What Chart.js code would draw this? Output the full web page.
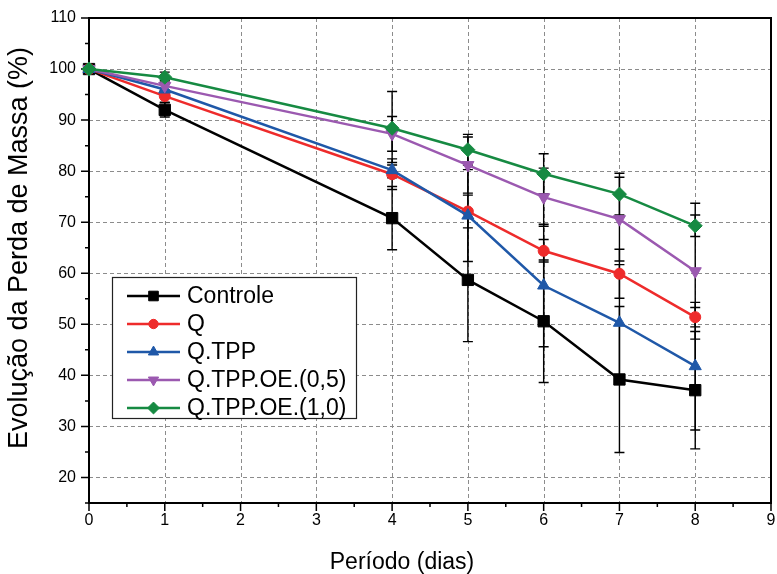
<!DOCTYPE html>
<html>
<head>
<meta charset="utf-8">
<script src="https://cdn.jsdelivr.net/npm/chart.js@4.4.1/dist/chart.umd.min.js"></script>
<style>
  html, body { margin: 0; padding: 0; background: #fff; }
  #wrap { width: 777px; height: 574px; }
</style>
</head>
<body>
<div id="wrap"><canvas id="grafico"></canvas></div>
<script>
// Dados
const dias = [0, 1, 4, 5, 6, 7, 8];
const nomes = ['Controle', 'Q', 'Q.TPP', 'Q.TPP.OE.(0,5)', 'Q.TPP.OE.(1,0)'];

const controle    = [100, 92.0, 70.8, 58.7, 50.6, 39.2, 37.1];
const controleErr = [0, 1.4, 6.2, 12.1, 12.0, 14.3, 11.5];
const q           = [100, 94.7, 79.4, 72.1, 64.4, 59.9, 51.4];
const qErr        = [0, 1.2, 3.0, 3.2, 2.2, 4.8, 1.9];
const qTpp        = [100, 96.0, 80.2, 71.3, 57.6, 50.3, 41.8];
const qTppErr     = [0, 1.0, 1.5, 9.0, 12.0, 11.4, 12.5];
const oe05        = [100, 96.7, 87.3, 81.2, 74.9, 70.6, 60.4];
const oe05Err     = [0, 1.0, 3.4, 5.5, 5.7, 8.2, 13.3];
const oe10        = [100, 98.4, 88.4, 84.2, 79.5, 75.5, 69.3];
const oe10Err     = [0, 1.0, 7.2, 3.0, 3.9, 4.1, 2.1];

const ticksX = [0, 1, 2, 3, 4, 5, 6, 7, 8, 9];
const ticksY = [20, 30, 40, 50, 60, 70, 80, 90, 100, 110];
const tituloX = 'Período (dias)';
const tituloY = 'Evolução da Perda de Massa (%)';

const fonte = "'Liberation Sans', Arial, sans-serif";

// estilo de cada série
const series = [
    { valores: controle, erros: controleErr, cor: '#000000', ponto: 'rect',     raio: 8,   rot: 0 },
    { valores: q,        erros: qErr,        cor: '#ee2b2b', ponto: 'circle',   raio: 5.5, rot: 0 },
    { valores: qTpp,     erros: qTppErr,     cor: '#1f58a8', ponto: 'triangle', raio: 7,   rot: 0 },
    { valores: oe05,     erros: oe05Err,     cor: '#9b59b0', ponto: 'triangle', raio: 7,   rot: 180 },
    { valores: oe10,     erros: oe10Err,     cor: '#168a42', ponto: 'rectRot',  raio: 7,   rot: 0 }
];

const datasets = series.map((s, i) => ({
    label: nomes[i],
    data: dias.map((d, k) => ({ x: d, y: s.valores[k] })),
    erros: s.erros,
    borderColor: s.cor,
    backgroundColor: s.cor,
    borderWidth: 2.5,
    pointStyle: s.ponto,
    pointRadius: s.raio,
    pointHoverRadius: s.raio,
    pointRotation: s.rot,
    pointBorderWidth: 1,
    pointBorderColor: s.cor,
    pointBackgroundColor: s.cor,
    tension: 0,
    clip: false,
    order: series.length - 1 - i
}));

// grade tracejada, moldura, ticks, barras de erro e legenda
const extrasPlugin = {
    id: 'extras',
    beforeDatasetsDraw(chart) {
        const { ctx, chartArea: a, scales: { x, y } } = chart;
        ctx.save();
        ctx.strokeStyle = '#8c8c8c';
        ctx.lineWidth = 1;
        ctx.setLineDash([4, 3]);
        ctx.beginPath();
        ticksX.forEach(v => {
            const px = Math.round(x.getPixelForValue(v)) + 0.5;
            ctx.moveTo(px, a.top); ctx.lineTo(px, a.bottom);
        });
        ticksY.forEach(v => {
            const py = Math.round(y.getPixelForValue(v)) + 0.5;
            ctx.moveTo(a.left, py); ctx.lineTo(a.right, py);
        });
        ctx.stroke();
        ctx.setLineDash([]);

        ctx.strokeStyle = '#000';
        ctx.lineWidth = 2;
        ctx.strokeRect(a.left, a.top, a.right - a.left, a.bottom - a.top);

        // ticks maiores e menores
        ctx.lineWidth = 1.5;
        ctx.beginPath();
        for (let v = 0; v <= 9; v += 0.5) {
            const px = x.getPixelForValue(v);
            const len = Number.isInteger(v) ? 8 : 4;
            ctx.moveTo(px, a.bottom); ctx.lineTo(px, a.bottom + len);
        }
        for (let v = 15; v <= 110; v += 5) {
            const py = y.getPixelForValue(v);
            const len = v % 10 === 0 ? 8 : 4;
            ctx.moveTo(a.left, py); ctx.lineTo(a.left - len, py);
        }
        ctx.stroke();

        // barras de erro
        ctx.lineWidth = 1.4;
        chart.data.datasets.forEach(ds => {
            ds.erros.forEach((e, i) => {
                if (!e) return;
                const px = x.getPixelForValue(ds.data[i].x);
                const yTop = y.getPixelForValue(ds.data[i].y + e);
                const yBot = y.getPixelForValue(ds.data[i].y - e);
                ctx.beginPath();
                ctx.moveTo(px, yTop); ctx.lineTo(px, yBot);
                ctx.moveTo(px - 5, yTop); ctx.lineTo(px + 5, yTop);
                ctx.moveTo(px - 5, yBot); ctx.lineTo(px + 5, yBot);
                ctx.stroke();
            });
        });
        ctx.restore();
    },
    afterDraw(chart) {
        const ctx = chart.ctx;
        ctx.save();
        // títulos dos eixos
        ctx.fillStyle = '#000';
        ctx.font = '23px ' + fonte;
        ctx.textAlign = 'center';
        ctx.textBaseline = 'middle';
        ctx.fillText(tituloX, 402, 563);
        ctx.save();
        ctx.translate(20, 248);
        ctx.rotate(-Math.PI / 2);
        ctx.font = '27px ' + fonte;
        ctx.fillText(tituloY, 0, 0);
        ctx.restore();

        // legenda
        ctx.font = '23px ' + fonte;
        ctx.textAlign = 'left';
        ctx.fillStyle = '#fff';
        ctx.fillRect(112, 277, 244, 141);
        ctx.strokeStyle = '#222';
        ctx.lineWidth = 1.2;
        ctx.strokeRect(112.5, 277.5, 244, 141);
        chart.data.datasets.forEach((ds, i) => {
            const yy = 296 + i * 28;
            ctx.strokeStyle = ds.borderColor;
            ctx.fillStyle = ds.borderColor;
            ctx.lineWidth = 2.5;
            ctx.beginPath();
            ctx.moveTo(127, yy); ctx.lineTo(180, yy);
            ctx.stroke();
            ctx.lineWidth = 1;
            Chart.helpers.drawPoint(ctx, {
                pointStyle: ds.pointStyle,
                rotation: ds.pointRotation,
                radius: ds.pointRadius * 0.85,
                borderWidth: 1
            }, 153.5, yy);
            ctx.fillStyle = '#000';
            ctx.fillText(ds.label, 187, yy + 1);
        });
        ctx.restore();
    }
};

new Chart(document.getElementById('grafico'), {
    type: 'line',
    data: { datasets },
    options: {
        responsive: true,
        maintainAspectRatio: false,
        animation: false,
        layout: { autoPadding: false, padding: { top: 18, right: 6, left: 0, bottom: 0 } },
        plugins: {
            legend: { display: false },
            tooltip: { enabled: false }
        },
        scales: {
            x: {
                type: 'linear',
                min: 0,
                max: 9,
                afterFit: s => { s.height = 71; s.paddingLeft = 0; s.paddingRight = 0; },
                afterBuildTicks: s => { s.ticks = ticksX.map(v => ({ value: v })); },
                grid: { display: false, drawTicks: false },
                border: { display: false },
                ticks: { color: '#000', font: { family: fonte, size: 16 }, padding: 8, maxRotation: 0 },
                title: { display: false }
            },
            y: {
                min: 15,
                max: 110,
                afterFit: s => { s.width = 89; s.paddingTop = 0; s.paddingBottom = 0; },
                afterBuildTicks: s => { s.ticks = ticksY.map(v => ({ value: v })); },
                grid: { display: false, drawTicks: false },
                border: { display: false },
                ticks: { color: '#000', font: { family: fonte, size: 16 }, padding: 13 },
                title: { display: false }
            }
        }
    },
    plugins: [extrasPlugin]
});
</script>
</body>
</html>
